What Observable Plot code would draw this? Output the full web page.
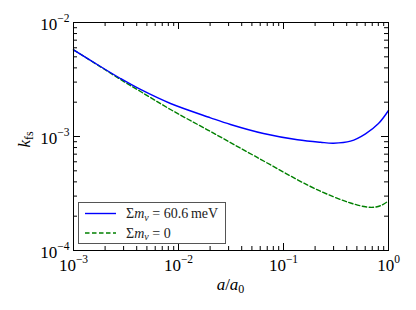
<!DOCTYPE html>
<html><head><meta charset="utf-8">
<script src="https://cdn.jsdelivr.net/npm/d3@7"></script>
<script src="https://cdn.jsdelivr.net/npm/@observablehq/plot@0.6"></script>
<style>
body{margin:0;background:#fff}
#chart{width:416px;height:310px}
#chart svg text, #chart svg tspan{font-family:'Liberation Serif','DejaVu Serif',serif !important}
</style>
</head><body><div id="chart"></div>
<script>
// Series: scale factor a/a0 and free-streaming wavenumber k_fs
const aMassive = [0.001, 0.001807, 0.002803, 0.004346, 0.008391, 0.02018, 0.03128, 0.06449, 0.1359, 0.2251, 0.2994, 0.4346, 0.6039, 0.8029, 1.0];
const kMassive = [0.005761, 0.004111, 0.003227, 0.002584, 0.001947, 0.001459, 0.001274, 0.001062, 0.0009357, 0.0008894, 0.0008733, 0.0009095, 0.001056, 0.001300, 0.001691];
const aMassless = [0.001, 0.001807, 0.002803, 0.004346, 0.008391, 0.02018, 0.05412, 0.1730, 0.2994, 0.4346, 0.6039, 0.7197, 0.8390, 1.0];
const kMassless = [0.005761, 0.004087, 0.003162, 0.002481, 0.001725, 0.001106, 0.0006679, 0.0003717, 0.0002959, 0.0002610, 0.0002417, 0.0002393, 0.0002472, 0.0002718];
const seriesLabels = ["Σm_ν = 60.6\u2009meV", "Σm_ν = 0"];
const xTickValues = [1e-3, 1e-2, 1e-1, 1];
const xTickLabels = ["10^−3", "10^−2", "10^−1", "10^0"];
const yTickValues = [1e-4, 1e-3, 1e-2];
const yTickLabels = ["10^−4", "10^−3", "10^−2"];

const colors = ["#0000ff", "#008000"];
const dashes = [null, "4.5,2.5"];
const serif = "'Liberation Serif', 'DejaVu Serif', serif";

const massive = aMassive.map((a, i) => ({a, k: kMassive[i]}));
const massless = aMassless.map((a, i) => ({a, k: kMassless[i]}));
const minors = (e0, e1) => d3.range(e0, e1).flatMap(e => d3.range(2, 10).map(m => m * 10 ** e));
const xMinor = minors(-3, 0);
const yMinor = minors(-4, -2);

const FH = 228; // frame height in px
const FW = 315; // frame width in px

const svg = Plot.plot({
  width: 416, height: 310,
  marginLeft: 73, marginRight: 28, marginTop: 22, marginBottom: 60,
  x: {type: "log", domain: [1e-3, 1], axis: null},
  y: {type: "log", domain: [1e-4, 1e-2], axis: null},
  style: {background: "white"},
  marks: [
    Plot.tickX(xTickValues, {x: d => d, insetTop: FH - 7, stroke: "black"}),
    Plot.tickX(xTickValues, {x: d => d, insetBottom: FH - 7, stroke: "black"}),
    Plot.tickX(xMinor, {x: d => d, insetTop: FH - 4, stroke: "black"}),
    Plot.tickX(xMinor, {x: d => d, insetBottom: FH - 4, stroke: "black"}),
    Plot.tickY(yTickValues, {y: d => d, insetRight: FW - 7, stroke: "black"}),
    Plot.tickY(yTickValues, {y: d => d, insetLeft: FW - 7, stroke: "black"}),
    Plot.tickY(yMinor, {y: d => d, insetRight: FW - 4, stroke: "black"}),
    Plot.tickY(yMinor, {y: d => d, insetLeft: FW - 4, stroke: "black"}),
    Plot.line(massless, {x: "a", y: "k", stroke: colors[1], strokeWidth: 1.4, strokeDasharray: dashes[1], curve: "catmull-rom"}),
    Plot.line(massive, {x: "a", y: "k", stroke: colors[0], strokeWidth: 1.4, curve: "catmull-rom"}),
    Plot.frame({stroke: "black", strokeWidth: 1}),
    Plot.text(xTickValues, {x: d => d, frameAnchor: "bottom", dy: 20, lineAnchor: "bottom", textAnchor: "middle",
      text: (d, i) => xTickLabels[i], fontSize: 17, fontFamily: serif, fill: "black"}),
    Plot.text(yTickValues, {y: d => d, frameAnchor: "left", dx: -4, dy: 7.5, lineAnchor: "bottom", textAnchor: "end",
      text: (d, i) => yTickLabels[i], fontSize: 17, fontFamily: serif, fill: "black"})
  ]
});
document.getElementById("chart").appendChild(svg);

const s = d3.select(svg);
// superscripts for tick labels
s.selectAll("text").filter(function() { return this.textContent.includes("^"); }).each(function() {
  const [base, exp] = this.textContent.split("^");
  this.textContent = "";
  const t = d3.select(this);
  t.append("tspan").text(base);
  t.append("tspan").attr("font-size", 11.5).attr("dy", -8).text(exp);
});

// axis labels
const xl = s.append("text").attr("x", 230.5).attr("y", 290).attr("text-anchor", "middle")
  .attr("font-family", serif).attr("font-size", 17).attr("fill", "black");
xl.append("tspan").attr("font-style", "italic").text("a");
xl.append("tspan").text("/");
xl.append("tspan").attr("font-style", "italic").text("a");
xl.append("tspan").attr("font-size", 12).attr("dy", 3).text("0");

const yl = s.append("text").attr("transform", "translate(29.5,139.5) rotate(-90)").attr("text-anchor", "middle")
  .attr("font-family", serif).attr("font-size", 17).attr("fill", "black");
yl.append("tspan").attr("font-style", "italic").text("k");
yl.append("tspan").attr("font-size", 12).attr("dy", 3).text("fs");

// legend
const lg = s.append("g");
lg.append("rect").attr("x", 78.5).attr("y", 202.5).attr("width", 147).attr("height", 41)
  .attr("fill", "white").attr("stroke", "#555").attr("stroke-width", 1);
seriesLabels.forEach((lab, i) => {
  const y = 213.5 + i * 19.5;
  lg.append("line").attr("x1", 85).attr("x2", 116).attr("y1", y).attr("y2", y)
    .attr("stroke", colors[i]).attr("stroke-width", 1.4).attr("stroke-dasharray", dashes[i]);
  const t = lg.append("text").attr("x", 126).attr("y", y + 4.5).attr("text-anchor", "start")
    .attr("font-family", serif).attr("font-size", 14).attr("fill", "#222");
  const rest = lab.split("_ν")[1];
  t.append("tspan").text("Σ");
  t.append("tspan").attr("font-style", "italic").text("m");
  t.append("tspan").attr("font-style", "italic").attr("font-size", 10).attr("dy", 2.5).text("ν");
  t.append("tspan").attr("dy", -2.5).text(rest);
});
</script>
</body></html>
